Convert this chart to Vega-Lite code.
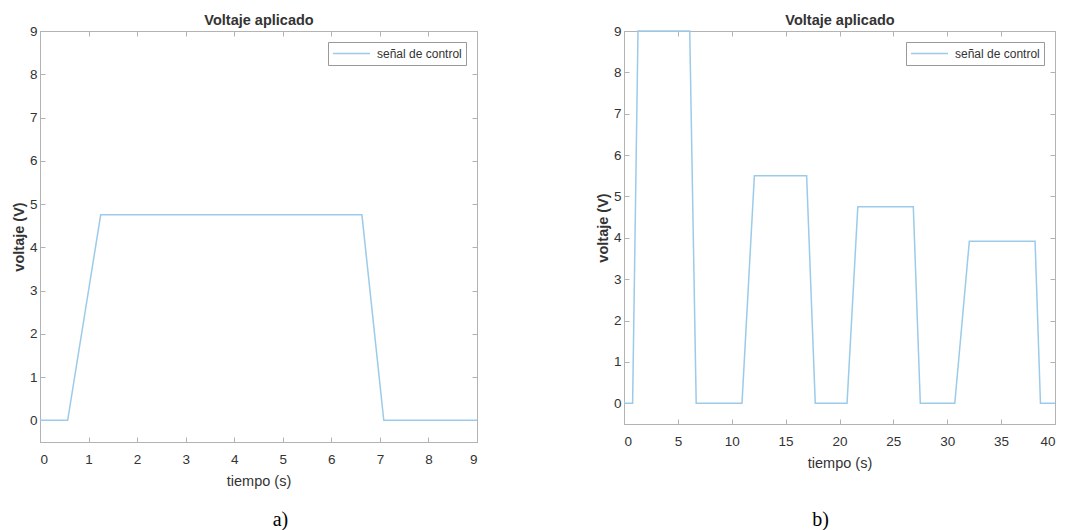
{
  "$schema": "https://vega.github.io/schema/vega-lite/v6.json",
  "background": "white",
  "padding": {"left": 10, "top": 12, "right": 5, "bottom": 0},
  "spacing": 113,
  "datasets": {
    "a": [
      {"t": 0, "v": 0, "serie": "señal de control"},
      {"t": 0.57, "v": 0, "serie": "señal de control"},
      {"t": 1.25, "v": 4.75, "serie": "señal de control"},
      {"t": 6.63, "v": 4.75, "serie": "señal de control"},
      {"t": 7.08, "v": 0, "serie": "señal de control"},
      {"t": 9, "v": 0, "serie": "señal de control"}
    ],
    "b": [
      {"t": 0, "v": 0, "serie": "señal de control"},
      {"t": 0.8, "v": 0, "serie": "señal de control"},
      {"t": 1.3, "v": 9, "serie": "señal de control"},
      {"t": 6.1, "v": 9, "serie": "señal de control"},
      {"t": 6.7, "v": 0, "serie": "señal de control"},
      {"t": 10.95, "v": 0, "serie": "señal de control"},
      {"t": 12.1, "v": 5.5, "serie": "señal de control"},
      {"t": 16.95, "v": 5.5, "serie": "señal de control"},
      {"t": 17.75, "v": 0, "serie": "señal de control"},
      {"t": 20.7, "v": 0, "serie": "señal de control"},
      {"t": 21.7, "v": 4.75, "serie": "señal de control"},
      {"t": 26.85, "v": 4.75, "serie": "señal de control"},
      {"t": 27.5, "v": 0, "serie": "señal de control"},
      {"t": 30.7, "v": 0, "serie": "señal de control"},
      {"t": 32.05, "v": 3.92, "serie": "señal de control"},
      {"t": 38.15, "v": 3.92, "serie": "señal de control"},
      {"t": 38.65, "v": 0, "serie": "señal de control"},
      {"t": 40, "v": 0, "serie": "señal de control"}
    ]
  },
  "config": {
    "view": {"stroke": "#b3b3b3", "strokeWidth": 1},
    "axis": {
      "grid": false,
      "domainColor": "#b3b3b3",
      "tickColor": "#b3b3b3",
      "tickSize": -5,
      "labelFont": "Liberation Sans",
      "labelFontSize": 13.5,
      "labelColor": "#333333",
      "titleFont": "Liberation Sans",
      "titleFontSize": 14.5,
      "titleColor": "#333333"
    },
    "axisX": {"labelPadding": 15, "titleFontWeight": "normal", "titlePadding": 9},
    "axisY": {"labelPadding": 8, "titleFontWeight": "bold", "titlePadding": 3},
    "legend": {
      "orient": "top-right",
      "offset": 11,
      "strokeColor": "#999999",
      "fillColor": "white",
      "padding": 4,
      "symbolType": "stroke",
      "symbolSize": 1369,
      "symbolStrokeWidth": 1.5,
      "labelOffset": 6,
      "clipHeight": 15,
      "labelFont": "Liberation Sans",
      "labelFontSize": 12,
      "labelColor": "#333333"
    },
    "title": {"font": "Liberation Serif", "fontSize": 20, "fontWeight": "normal", "color": "black", "orient": "bottom"}
  },
  "hconcat": [
    {
      "width": 437,
      "height": 411,
      "title": {"text": "a)", "dx": 22, "offset": 22},
      "data": {"name": "a"},
      "layer": [
        {
          "mark": {"type": "line", "strokeWidth": 1.5},
          "encoding": {
            "x": {"field": "t", "type": "quantitative", "scale": {"domain": [0, 9], "nice": false},
                  "axis": {"orient": "bottom", "title": "tiempo (s)", "values": [0,1,2,3,4,5,6,7,8,9]}},
            "y": {"field": "v", "type": "quantitative", "scale": {"domain": [-0.5, 9], "nice": false, "zero": false},
                  "axis": {"orient": "left", "title": "voltaje (V)", "values": [0,1,2,3,4,5,6,7,8,9]}},
            "color": {"field": "serie", "type": "nominal", "scale": {"range": ["#9ccbea"]}, "legend": {"title": null}}
          }
        },
        {
          "mark": {"type": "line", "opacity": 0},
          "encoding": {
            "x": {"field": "t", "type": "quantitative",
                  "axis": {"orient": "top", "labels": false, "title": "Voltaje aplicado", "titleFontWeight": "bold", "titlePadding": 3, "values": [0,1,2,3,4,5,6,7,8,9]}},
            "y": {"field": "v", "type": "quantitative",
                  "axis": {"orient": "right", "labels": false, "title": null, "values": [0,1,2,3,4,5,6,7,8,9]}}
          }
        }
      ],
      "resolve": {"axis": {"x": "independent", "y": "independent"}}
    },
    {
      "width": 431,
      "height": 393,
      "title": {"text": "b)", "dx": -19, "offset": 40},
      "data": {"name": "b"},
      "layer": [
        {
          "mark": {"type": "line", "strokeWidth": 1.5},
          "encoding": {
            "x": {"field": "t", "type": "quantitative", "scale": {"domain": [0, 40], "nice": false},
                  "axis": {"orient": "bottom", "title": "tiempo (s)", "values": [0,5,10,15,20,25,30,35,40]}},
            "y": {"field": "v", "type": "quantitative", "scale": {"domain": [-0.5, 9], "nice": false, "zero": false},
                  "axis": {"orient": "left", "title": "voltaje (V)", "values": [0,1,2,3,4,5,6,7,8,9]}},
            "color": {"field": "serie", "type": "nominal", "scale": {"range": ["#9ccbea"]}, "legend": {"title": null}}
          }
        },
        {
          "mark": {"type": "line", "opacity": 0},
          "encoding": {
            "x": {"field": "t", "type": "quantitative",
                  "axis": {"orient": "top", "labels": false, "title": "Voltaje aplicado", "titleFontWeight": "bold", "titlePadding": 3, "values": [0,5,10,15,20,25,30,35,40]}},
            "y": {"field": "v", "type": "quantitative",
                  "axis": {"orient": "right", "labels": false, "title": null, "values": [0,1,2,3,4,5,6,7,8,9]}}
          }
        }
      ],
      "resolve": {"axis": {"x": "independent", "y": "independent"}}
    }
  ],
  "resolve": {"scale": {"color": "independent"}, "legend": {"color": "independent"}}
}
